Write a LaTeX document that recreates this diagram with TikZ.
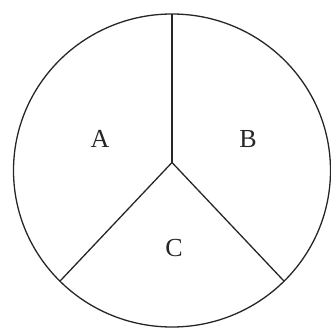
\documentclass[tikz,border=0pt]{standalone}
\usepackage{fontspec}
\setmainfont{Liberation Serif}
\begin{document}
\begin{tikzpicture}[x=1pt,y=-1pt,
  edge/.style={draw=black!85,line width=1.3pt},
  lbl/.style={font=\fontsize{26}{26}\selectfont,inner sep=0pt,text=black!85}]
\useasboundingbox (0,0) rectangle (331,329);
\coordinate (O) at (172,170.5);
\coordinate (J) at (172,162.5);
\draw[edge] (O) ellipse (158.5 and 156.5);
\coordinate (T) at (172,14);
\coordinate (L) at (59.9,281.2);
\coordinate (R) at (284.1,281.2);
\draw[edge] (T) -- (J);
\draw[edge] (J) -- (L);
\draw[edge] (J) -- (R);
\node[lbl] (a) at (100,139) {A};
\node[lbl] (b) at (248,139) {B};
\node[lbl] (c) at (174,248) {C};
\end{tikzpicture}
\end{document}
